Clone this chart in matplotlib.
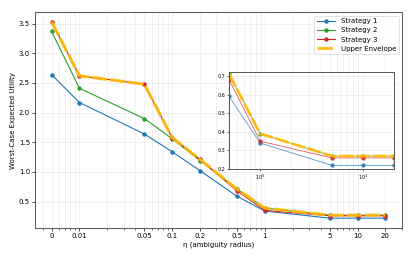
import numpy as np
import matplotlib
matplotlib.use("Agg")
import matplotlib.pyplot as plt

# ambiguity radius values (0 is drawn at 0.005 on the log axis)
eta = [0, 0.01, 0.05, 0.1, 0.2, 0.5, 1, 5, 10, 20]
eta_labels = ["0", "0.01", "0.05", "0.1", "0.2", "0.5", "1", "5", "10", "20"]
zero_pos = 0.005

strategy1 = [2.64, 2.17, 1.64, 1.34, 1.02, 0.59, 0.34, 0.22, 0.22, 0.22]
strategy2 = [3.37, 2.41, 1.90, 1.56, 1.19, 0.71, 0.39, 0.27, 0.27, 0.27]
strategy3 = [3.53, 2.62, 2.48, 1.58, 1.21, 0.68, 0.35, 0.26, 0.26, 0.26]

x = np.array([zero_pos if e == 0 else e for e in eta])
envelope = np.maximum.reduce([strategy1, strategy2, strategy3])

colors = ["#1f77b4", "#2ca02c", "#d62728"]
env_color = "#FFBA08"

fig = plt.figure(figsize=(4.15, 2.57), dpi=100)
ax = fig.add_axes([0.084, 0.113, 0.885, 0.84])

for i, s in enumerate([strategy1, strategy2, strategy3]):
    ax.plot(x, s, marker="o", ms=2.2, lw=0.8, color=colors[i], label=f"Strategy {i+1}")
ax.plot(x, envelope, lw=2.2, color=env_color, alpha=0.9, dashes=(5, 1.0), label="Upper Envelope")

ax.set_xscale("log")
ax.set_xticks(x)
ax.set_xticklabels(eta_labels)
ax.set_xlabel("η (ambiguity radius)", fontsize=5, labelpad=2)
ax.set_ylabel("Worst-Case Expected Utility", fontsize=5, labelpad=2)
ax.tick_params(axis="both", which="major", labelsize=5, length=2, width=0.5, pad=1.5)
ax.tick_params(axis="both", which="minor", length=1.2, width=0.4)
ax.grid(True, which="both", color="#dddddd", lw=0.4, alpha=0.7)
for sp in ax.spines.values():
    sp.set_color("#555555")
    sp.set_linewidth(0.7)

leg = ax.legend(loc="upper right", fontsize=5, frameon=True, handlelength=2.6,
                borderpad=0.4, labelspacing=0.45)
leg.get_frame().set_edgecolor("#cccccc")
leg.get_frame().set_linewidth(0.5)

# zoomed inset for large eta
ins = fig.add_axes([0.552, 0.342, 0.398, 0.377])
mask = x >= 0.5
for i, s in enumerate([strategy1, strategy2, strategy3]):
    ins.plot(x[mask], np.array(s)[mask], marker="o", ms=2.2, lw=0.6, alpha=0.75, color=colors[i])
ins.plot(x[mask], envelope[mask], lw=2.0, color=env_color, alpha=0.9, dashes=(5, 1.0))
ins.set_xscale("log")
ins.set_xlim(0.5, 20)
ins.set_ylim(0.2, 0.72)
ins.set_yticks([0.2, 0.3, 0.4, 0.5, 0.6, 0.7])
ins.tick_params(axis="both", which="major", labelsize=3.5, length=1.5, width=0.4, pad=1)
ins.tick_params(axis="both", which="minor", length=1, width=0.3)
ins.grid(True, which="both", color="#dddddd", lw=0.4, alpha=0.7)
for sp in ins.spines.values():
    sp.set_color("#555555")
    sp.set_linewidth(0.7)

plt.savefig("out.png", dpi=100)
